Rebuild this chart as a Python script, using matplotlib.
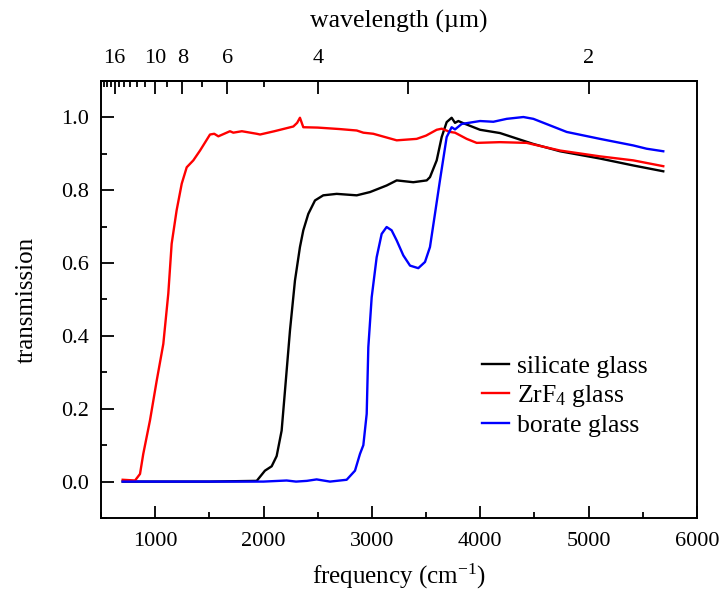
import matplotlib
matplotlib.use("Agg")
import matplotlib.pyplot as plt
from matplotlib.ticker import FixedLocator, MultipleLocator, NullFormatter

plt.rcParams['font.family'] = ['Liberation Serif', 'DejaVu Serif']
plt.rcParams['mathtext.fontset'] = 'custom'
plt.rcParams['mathtext.rm'] = 'Liberation Serif'
plt.rcParams['mathtext.it'] = 'Liberation Serif:italic'

# --- data -------------------------------------------------------------
sil_x = [700, 1000, 1500, 1937, 2013, 2075, 2121, 2167, 2198, 2244, 2290, 2336,
         2367, 2413, 2475, 2551, 2675, 2860, 2983, 3136, 3229, 3382, 3506, 3536,
         3598, 3644, 3690, 3736, 3767, 3798, 3844, 3998, 4182, 4490, 4736, 5105,
         5412, 5689]
sil_y = [0.0, 0.0, 0.0, 0.002, 0.03, 0.042, 0.07, 0.14, 0.25, 0.415, 0.552, 0.644,
         0.69, 0.735, 0.772, 0.786, 0.79, 0.786, 0.795, 0.813, 0.827, 0.822, 0.827,
         0.836, 0.882, 0.946, 0.987, 0.999, 0.985, 0.99, 0.984, 0.966, 0.957, 0.927,
         0.907, 0.887, 0.868, 0.852]

zrf_x = [700, 814, 860, 890, 952, 1014, 1075, 1121, 1152, 1198, 1245, 1291, 1352,
         1414, 1506, 1545, 1583, 1690, 1721, 1800, 1937, 1968, 2100, 2275, 2310,
         2336, 2367, 2500, 2700, 2860, 2921, 3013, 3229, 3413, 3500, 3598, 3644,
         3721, 3767, 3875, 3967, 4182, 4428, 4736, 5105, 5412, 5689]
zrf_y = [0.005, 0.003, 0.021, 0.076, 0.168, 0.277, 0.378, 0.516, 0.653, 0.745,
         0.818, 0.863, 0.882, 0.909, 0.953, 0.955, 0.948, 0.962, 0.958, 0.962,
         0.955, 0.953, 0.962, 0.975, 0.985, 0.999, 0.973, 0.972, 0.968, 0.964,
         0.958, 0.955, 0.937, 0.941, 0.95, 0.966, 0.969, 0.96, 0.958, 0.941, 0.930,
         0.932, 0.93, 0.909, 0.893, 0.882, 0.866]

bor_x = [700, 1500, 2000, 2213, 2300, 2400, 2490, 2613, 2767, 2844, 2890, 2921,
         2952, 2967, 2998, 3044, 3090, 3136, 3182, 3229, 3290, 3352, 3428, 3490,
         3536, 3582, 3628, 3690, 3736, 3767, 3829, 3998, 4121, 4244, 4398, 4490,
         4644, 4798, 5105, 5412, 5535, 5689]
bor_y = [0.0, 0.0, 0.0, 0.003, 0.0, 0.002, 0.006, 0.0, 0.005, 0.03, 0.076, 0.1,
         0.186, 0.369, 0.506, 0.616, 0.68, 0.699, 0.69, 0.662, 0.621, 0.593, 0.586,
         0.603, 0.644, 0.735, 0.827, 0.946, 0.973, 0.967, 0.982, 0.99, 0.988, 0.996,
         1.001, 0.996, 0.978, 0.96, 0.941, 0.923, 0.914, 0.907]

x_ticks = [1000, 2000, 3000, 4000, 5000, 6000]
y_ticks = [0.0, 0.2, 0.4, 0.6, 0.8, 1.0]
wl_major = [16, 10, 8, 6, 4, 3, 2]
wl_labels = ['16', '10', '8', '6', '4', '', '2']
wl_minor = [20, 19, 18, 17, 15, 14, 13, 12, 11, 9, 7, 5]

# --- figure -----------------------------------------------------------
fig = plt.figure(figsize=(7.23, 5.91), dpi=100)
ax = fig.add_axes([0.1397, 0.1235, 0.8243, 0.7395])

ax.plot(sil_x, sil_y, color='black', lw=1.7, label='silicate glass')
ax.plot(zrf_x, zrf_y, color='#ff0000', lw=1.7, label='ZrF$_4$ glass')
ax.plot(bor_x, bor_y, color='#0000ff', lw=1.7, label='borate glass')

ax.set_xlim(500, 6000)
ax.set_ylim(-0.1, 1.1)
ax.set_xticks(x_ticks)
ax.set_yticks(y_ticks)
ax.set_yticklabels([f'{v:.1f}' for v in y_ticks])
ax.xaxis.set_minor_locator(MultipleLocator(500))
ax.yaxis.set_minor_locator(MultipleLocator(0.1))
ax.tick_params(axis='both', which='major', direction='in', length=9, width=1.3,
               labelsize=16, top=False, right=False)
ax.tick_params(axis='both', which='minor', direction='in', length=4.5, width=1.3,
               top=False, right=False)
ax.tick_params(axis='x', which='major', pad=10)
ax.tick_params(axis='y', which='major', pad=8.5)
for s in ax.spines.values():
    s.set_linewidth(1.4)

ax.set_xlabel('frequency (cm$^{\\mathregular{-1}}$)', fontsize=18, labelpad=8)
ax.set_ylabel('transmission', fontsize=18, labelpad=17)

sec = ax.secondary_xaxis('top', functions=(lambda f: 1e4 / f, lambda w: 1e4 / w))
sec.xaxis.set_major_locator(FixedLocator(wl_major))
sec.set_xticklabels(wl_labels)
sec.xaxis.set_minor_locator(FixedLocator(wl_minor))
sec.xaxis.set_minor_formatter(NullFormatter())
sec.tick_params(which='major', direction='in', length=9, width=1.3, labelsize=16,
                pad=9)
sec.tick_params(which='minor', direction='in', length=4.5, width=1.3)
sec.spines['top'].set_linewidth(1.4)
sec.set_xlabel('wavelength (\u00b5m)', fontsize=18.5, labelpad=16)

ax.legend(loc='center left', bbox_to_anchor=(0.639, 0.279), frameon=False,
          fontsize=18.5, handlelength=1.05, handletextpad=0.3, labelspacing=0.21,
          borderpad=0, borderaxespad=0)

fig.savefig('out.png', dpi=100)
